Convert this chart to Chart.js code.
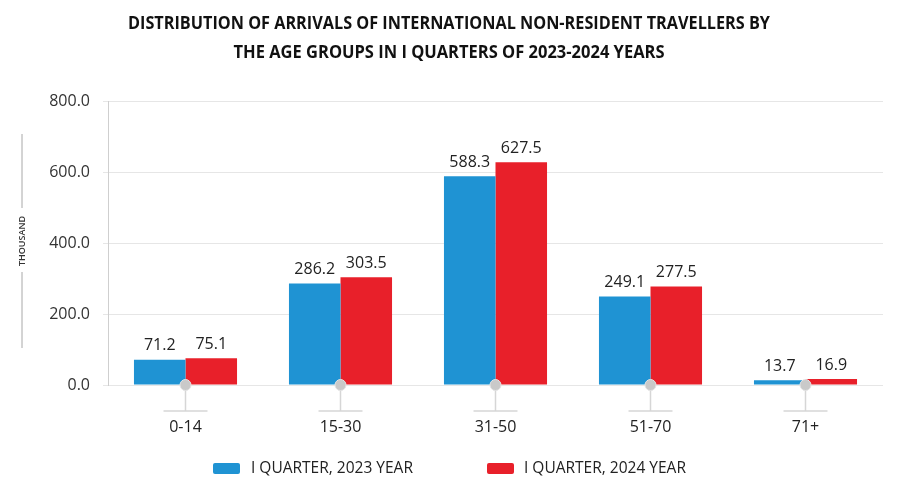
<!DOCTYPE html>
<html>
<head>
<meta charset="utf-8">
<script src="https://cdn.jsdelivr.net/npm/chart.js@4.4.1/dist/chart.umd.min.js"></script>
<style>
  html, body { margin: 0; padding: 0; background: #fff; }
  #wrap { width: 900px; height: 496px; }
</style>
</head>
<body>
<div id="wrap"><canvas id="chart" width="900" height="496"></canvas></div>
<script>
'use strict';

// data
const categories = ['0-14', '15-30', '31-50', '51-70', '71+'];
const seriesNames = ['I QUARTER, 2023 YEAR', 'I QUARTER, 2024 YEAR'];
const values2023 = [71.2, 286.2, 588.3, 249.1, 13.7];
const values2024 = [75.1, 303.5, 627.5, 277.5, 16.9];
const yTicks = [0, 200, 400, 600, 800];
const titleLines = [
  'DISTRIBUTION OF ARRIVALS OF INTERNATIONAL NON-RESIDENT TRAVELLERS BY',
  'THE AGE GROUPS IN I QUARTERS OF 2023-2024 YEARS'
];
const yTitle = 'THOUSAND';

const BLUE = '#1f93d3';
const RED = '#e8202a';
const FONT = '"Open Sans", "Noto Sans", sans-serif';

// text squeezed to a given width (title is a condensed face in the original)
function fitText(ctx, text, cx, y, maxW) {
  let w = ctx.measureText(text).width;
  let k = w > maxW ? maxW / w : 1;
  ctx.save();
  ctx.translate(cx, y);
  ctx.scale(k, 1);
  ctx.fillText(text, 0, 0);
  ctx.restore();
}

const decorPlugin = {
  id: 'decor',
  afterDatasetsDraw(chart) {
    const ctx = chart.ctx;
    const xs = chart.scales.x;
    const ys = chart.scales.y;
    const base = ys.getPixelForValue(0);

    // value labels
    ctx.save();
    ctx.font = '16px ' + FONT;
    ctx.fillStyle = '#222';
    ctx.textAlign = 'center';
    ctx.textBaseline = 'bottom';
    chart.data.datasets.forEach((ds, i) => {
      chart.getDatasetMeta(i).data.forEach((bar, j) => {
        ctx.fillText(ds.data[j].toFixed(1), bar.x, bar.y - 6);
      });
    });
    ctx.restore();

    // stubs + markers under each category
    ctx.save();
    categories.forEach((c, i) => {
      const x = xs.getPixelForValue(i);
      ctx.strokeStyle = '#d6d6d6';
      ctx.lineWidth = 1.5;
      ctx.beginPath();
      ctx.moveTo(x, base);
      ctx.lineTo(x, base + 26);
      ctx.moveTo(x - 22, base + 26);
      ctx.lineTo(x + 22, base + 26);
      ctx.stroke();
      ctx.beginPath();
      ctx.arc(x, base, 5.5, 0, Math.PI * 2);
      ctx.fillStyle = '#c9c9c9';
      ctx.fill();
      ctx.strokeStyle = '#e4e4e4';
      ctx.lineWidth = 1;
      ctx.stroke();
    });
    ctx.restore();
  },
  afterDraw(chart) {
    const ctx = chart.ctx;

    // title
    ctx.save();
    ctx.font = 'bold 17px ' + FONT;
    ctx.fillStyle = '#111';
    ctx.textAlign = 'center';
    ctx.textBaseline = 'middle';
    fitText(ctx, titleLines[0], 449, 24, 642);
    fitText(ctx, titleLines[1], 449, 53, 431);
    ctx.restore();

    // y title with lines
    ctx.save();
    ctx.strokeStyle = '#a8a8a8';
    ctx.lineWidth = 1;
    ctx.beginPath();
    ctx.moveTo(22, 134);
    ctx.lineTo(22, 208);
    ctx.moveTo(22, 272);
    ctx.lineTo(22, 348);
    ctx.stroke();
    ctx.translate(22, 241);
    ctx.rotate(-Math.PI / 2);
    ctx.font = '600 9px ' + FONT;
    ctx.fillStyle = '#333';
    ctx.textAlign = 'center';
    ctx.textBaseline = 'middle';
    ctx.fillText(yTitle, 0, 0);
    ctx.restore();

    // legend
    ctx.save();
    const items = [{x: 213, c: BLUE, tx: 251}, {x: 487, c: RED, tx: 524}];
    ctx.font = '15.5px ' + FONT;
    ctx.textBaseline = 'middle';
    ctx.textAlign = 'left';
    items.forEach((it, i) => {
      ctx.fillStyle = it.c;
      ctx.beginPath();
      ctx.roundRect(it.x, 463, 27, 11, 2);
      ctx.fill();
      ctx.fillStyle = '#222';
      ctx.fillText(seriesNames[i], it.tx, 469);
    });
    ctx.restore();
  }
};

new Chart(document.getElementById('chart'), {
  type: 'bar',
  data: {
    labels: categories,
    datasets: [
      {label: seriesNames[0], data: values2023, backgroundColor: BLUE},
      {label: seriesNames[1], data: values2024, backgroundColor: RED}
    ]
  },
  options: {
    responsive: false,
    animation: false,
    layout: {padding: {top: 101, left: 0, right: 17, bottom: 0}},
    datasets: {bar: {categoryPercentage: 0.665, barPercentage: 1}},
    plugins: {
      legend: {display: false},
      title: {display: false},
      tooltip: {enabled: false}
    },
    scales: {
      x: {
        grid: {display: false, drawTicks: false},
        border: {display: false},
        ticks: {padding: 33, color: '#222', font: {family: FONT, size: 16}},
        afterFit(s) { s.height = 111; }
      },
      y: {
        min: 0,
        max: 800,
        afterBuildTicks(s) { s.ticks = yTicks.map(v => ({value: v})); },
        grid: {color: '#e6e6e6', tickLength: 5, lineWidth: 1},
        border: {color: '#cfcfcf'},
        ticks: {
          padding: 13,
          color: '#333',
          font: {family: FONT, size: 16},
          callback: v => v.toFixed(1)
        },
        afterFit(s) { s.width = 108; }
      }
    }
  },
  plugins: [decorPlugin]
});
</script>
</body>
</html>
